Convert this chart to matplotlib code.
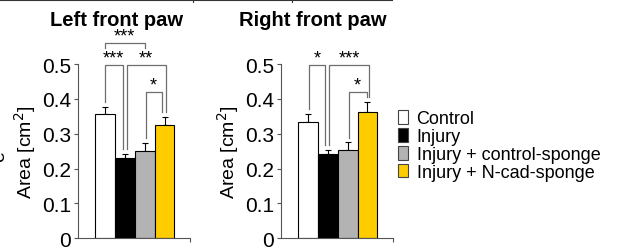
import matplotlib
matplotlib.use("Agg")
import matplotlib.pyplot as plt
from matplotlib.patches import Patch

plt.rcParams['font.family'] = ['Liberation Sans', 'DejaVu Sans']

groups = ['Control', 'Injury', 'Injury + control-sponge', 'Injury + N-cad-sponge']
colors = ['#ffffff', '#000000', '#b3b3b3', '#ffcc00']

left_mean = [0.358, 0.230, 0.251, 0.326]
left_err = [0.020, 0.011, 0.022, 0.021]
right_mean = [0.334, 0.241, 0.254, 0.361]
right_err = [0.024, 0.012, 0.021, 0.031]

# comparisons: (bar i, bar j, bracket height, label, leg offset i, leg offset j, short legs)
left_sig = [(0, 2, 0.56, '***', 0.0, 0.0, True),
            (0, 1, 0.497, '***', 0.0, -0.1, False),
            (1, 3, 0.497, '**', 0.1, 0.05, False),
            (2, 3, 0.42, '*', 0.05, -0.15, False)]
right_sig = [(0, 1, 0.497, '*', 0.05, -0.12, False),
             (1, 3, 0.497, '***', 0.08, 0.1, False),
             (2, 3, 0.42, '*', 0.05, -0.05, False)]

fig = plt.figure(figsize=(6.4, 2.51), dpi=100)


def panel(x0, title, title_x, mean, err, sig):
    ax = fig.add_axes([x0, 0.0466, 0.175, 0.6944])
    pos = [1, 2, 3, 4]
    ax.bar(pos, mean, width=1.0, color=colors, edgecolor='black', linewidth=0.8, zorder=2)
    ax.errorbar(pos, mean, yerr=[[0] * 4, err], fmt='none', ecolor='black',
                elinewidth=0.8, capsize=2.5, capthick=0.8, zorder=1)
    ax.set_xlim(-0.35, 5.28)
    ax.set_ylim(0, 0.5)
    ax.set_yticks([0, 0.1, 0.2, 0.3, 0.4, 0.5])
    ax.set_yticklabels(['0', '0.1', '0.2', '0.3', '0.4', '0.5'], fontsize=15)
    ax.set_xticks([5.28])
    ax.set_xticklabels([''])
    ax.tick_params(axis='both', length=3, width=0.8, color='#555555', pad=2)
    for s in ('top', 'right'):
        ax.spines[s].set_visible(False)
    for s in ('left', 'bottom'):
        ax.spines[s].set_color('#555555')
        ax.spines[s].set_linewidth(0.8)
    ax.set_ylabel('Area [cm$^2$]', fontsize=14, labelpad=3)
    fig.text(title_x, 1 - 20 / 251, title, ha='center', va='center',
             fontsize=14.5, fontweight='bold')
    for i, j, h, lab, oi, oj, short in sig:
        xi, xj = pos[i] + oi, pos[j] + oj
        if short:
            bi = bj = h - 0.015
        else:
            bi = mean[i] + err[i] + 0.014
            bj = mean[j] + err[j] + 0.014
        ax.plot([xi, xi, xj, xj], [bi, h, h, bj], color='#6e6e6e', lw=0.9,
                clip_on=False, zorder=3)
        ax.text((xi + xj) / 2, h - 0.004, lab, ha='center', va='bottom',
                fontsize=13, clip_on=False)
    return ax


panel(0.1219, 'Left front paw', 116 / 640, left_mean, left_err, left_sig)
panel(0.439, 'Right front paw', 313 / 640, right_mean, right_err, right_sig)

handles = [Patch(facecolor=c, edgecolor='#444444', linewidth=0.8) for c in colors]
fig.legend(handles, groups, loc='upper left', bbox_to_anchor=(0.61, 0.585),
           frameon=False, fontsize=13, handlelength=0.6, handleheight=0.75,
           handletextpad=0.45, labelspacing=0.05, borderaxespad=0)

# cropped bits at the edges of the original figure
fig.add_artist(plt.Line2D([0, 392 / 640], [0.995, 0.995], color='#333333', lw=1.5))
for xt in (193, 292):
    fig.add_artist(plt.Line2D([xt / 640, xt / 640], [0.988, 1.0], color='#333333', lw=0.8))
fig.text(0.0, 0.375, 'e', rotation=90, fontsize=14, ha='center', va='center')

fig.savefig('out.png', dpi=100)
